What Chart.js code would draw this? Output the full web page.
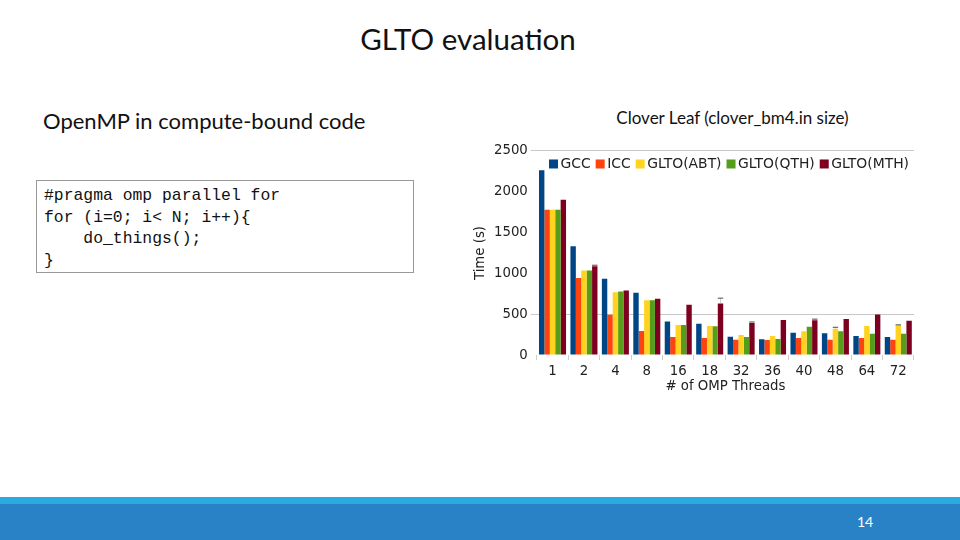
<!DOCTYPE html>
<html>
<head>
<meta charset="utf-8">
<script src="https://cdn.jsdelivr.net/npm/chart.js@4"></script>
<style>
  html, body { margin:0; padding:0; background:#fff; }
  #slide { position:relative; width:960px; height:540px; overflow:hidden; background:#fff; font-family:"Lato","Open Sans",sans-serif; }
  #title { position:absolute; left:0; width:936px; top:21px; text-align:center; font-size:29.5px; color:#111; }
  #left { position:absolute; left:43px; top:107px; font-size:22px; color:#111; }
  #right { position:absolute; left:560px; width:345px; top:107px; text-align:center; font-size:17px; color:#111; }
  #code { position:absolute; left:36px; top:180px; width:378px; height:93px; border:1.5px solid #999; box-sizing:border-box;
          font-family:"Liberation Mono","DejaVu Sans Mono",monospace; font-size:16.4px; line-height:21.5px; padding:4px 0 0 7px; white-space:pre; color:#111; }
  #band1 { position:absolute; left:0; top:497px; width:960px; height:7px; background:#29ABE2; }
  #band2 { position:absolute; left:0; top:504px; width:960px; height:36px; background:#2A82C6; }
  #page { position:absolute; left:857px; top:513px; font-size:14px; color:#fff; }
  #chartbox { position:absolute; left:473px; top:140px; width:447px; height:255px; }
</style>
</head>
<body>
<div id="slide">
  <div id="title">GLTO evaluation</div>
  <div id="left">OpenMP in compute-bound code</div>
  <div id="right">Clover Leaf (clover_bm4.in size)</div>
  <div id="code">#pragma omp parallel for
for (i=0; i&lt; N; i++){
    do_things();
}</div>
  <div id="chartbox"><canvas id="c"></canvas></div>
  <div id="band1"></div>
  <div id="band2"></div>
  <div id="page">14</div>
</div>
<script>
const threads = ["1","2","4","8","16","18","32","36","40","48","64","72"];
const gcc     = [2265,1333,935,763,410,385,225,193,275,267,234,221];
const icc     = [1780,943,495,295,221,209,189,185,209,189,209,189];
const gltoABT = [1780,1037,771,672,369,357,246,234,291,324,357,365];
const gltoQTH = [1780,1037,779,672,369,353,221,197,348,291,262,262];
const gltoMTH = [1903,1087,791,689,615,632,394,430,426,443,496,422];
const yTicks  = [0,500,1000,1500,2000,2500];
// upper ends of the few visible error bars (null = none visible)
const errABT  = [null,null,null,null,null,null,null,null,null,340,null,370];
const errMTH  = [null,1100,null,null,null,697,405,null,440,null,null,null];

const seriesNames  = ["GCC","ICC","GLTO(ABT)","GLTO(QTH)","GLTO(MTH)"];
const seriesData   = [gcc, icc, gltoABT, gltoQTH, gltoMTH];
const seriesErr    = [null, null, errABT, null, errMTH];
const seriesColors = ["#004586","#ff420e","#ffd320","#579d1c","#7e0021"];

const FONT = 'DejaVu Sans';
const FS = 13.3;

const innerLegend = {
  id:'innerLegend',
  afterDraw(chart){
    const ctx = chart.ctx, ca = chart.chartArea;
    ctx.save();
    ctx.font = '13.9px "' + FONT + '"';
    ctx.textBaseline = 'middle';
    const box = 9, gapBT = 2.5, gapItem = 5;
    const ds = chart.data.datasets;
    const widths = ds.map(d => box + gapBT + ctx.measureText(d.label).width);
    const total = widths.reduce((a,b)=>a+b,0) + gapItem*(ds.length-1);
    let x = ca.right - 5 - total;
    const yc = ca.top + 13;
    ds.forEach((d,i)=>{
      ctx.fillStyle = d.backgroundColor;
      ctx.fillRect(x, yc - box/2, box, box);
      ctx.fillStyle = '#222';
      ctx.fillText(d.label, x + box + gapBT, yc + 0.5);
      x += widths[i] + gapItem;
    });
    ctx.restore();
  }
};

const errorBars = {
  id:'errorBars',
  afterDatasetsDraw(chart){
    const ctx = chart.ctx, ys = chart.scales.y;
    ctx.save();
    seriesErr.forEach((arr, di)=>{
      if (!arr) return;
      const meta = chart.getDatasetMeta(di);
      arr.forEach((v, i)=>{
        if (v == null) return;
        const bar = meta.data[i];
        const yTop = ys.getPixelForValue(v);
        const w = bar.width;
        ctx.strokeStyle = 'rgba(120,120,120,0.35)';
        ctx.lineWidth = 1;
        ctx.beginPath();
        ctx.moveTo(bar.x, yTop); ctx.lineTo(bar.x, bar.y);
        ctx.stroke();
        ctx.strokeStyle = '#666';
        ctx.lineWidth = 1.2;
        ctx.beginPath();
        ctx.moveTo(bar.x - w/2, yTop); ctx.lineTo(bar.x + w/2, yTop);
        ctx.stroke();
      });
    });
    ctx.restore();
  }
};

new Chart(document.getElementById('c'), {
  type: 'bar',
  data: {
    labels: threads,
    datasets: seriesNames.map((n,i)=>({ label:n, data:seriesData[i], backgroundColor:seriesColors[i], borderWidth:0,
      barPercentage:1.0, categoryPercentage:0.86 }))
  },
  options: {
    responsive:true, maintainAspectRatio:false, animation:false,
    layout:{ padding:{ left:0, right:6, top:3, bottom:0 } },
    plugins:{ legend:{ display:false }, tooltip:{ enabled:false } },
    scales:{
      x:{
        grid:{ offset:true, drawOnChartArea:true, color:(ctx)=> ctx.index===threads.length ? '#cfcfcf' : 'rgba(0,0,0,0)',
               tickColor:'#cfcfcf', tickLength:5 },
        border:{ display:false },
        ticks:{ color:'#222', font:{ family:FONT, size:FS }, padding:3 },
        title:{ display:true, text:'# of OMP Threads', color:'#222', font:{ family:FONT, size:FS }, padding:{top:-3,bottom:0} }
      },
      y:{
        min:0, max:2500,
        afterBuildTicks:(axis)=>{ axis.ticks = yTicks.map(v=>({value:v})); },
        grid:{ color:(ctx)=> (ctx.tick && (ctx.tick.value===500 || ctx.tick.value===2500)) ? '#c8c8c8' : 'rgba(0,0,0,0)',
               tickColor:(ctx)=> (ctx.tick && (ctx.tick.value===500 || ctx.tick.value===2500)) ? '#c8c8c8' : 'rgba(0,0,0,0)', tickLength:6 },
        border:{ display:false },
        ticks:{ color:'#222', font:{ family:FONT, size:FS }, padding:3, callback:(v)=>String(v) },
        title:{ display:true, text:'Time (s)', color:'#222', font:{ family:FONT, size:FS }, padding:{top:0,bottom:2} }
      }
    }
  },
  plugins:[innerLegend, errorBars]
});
</script>
</body>
</html>
